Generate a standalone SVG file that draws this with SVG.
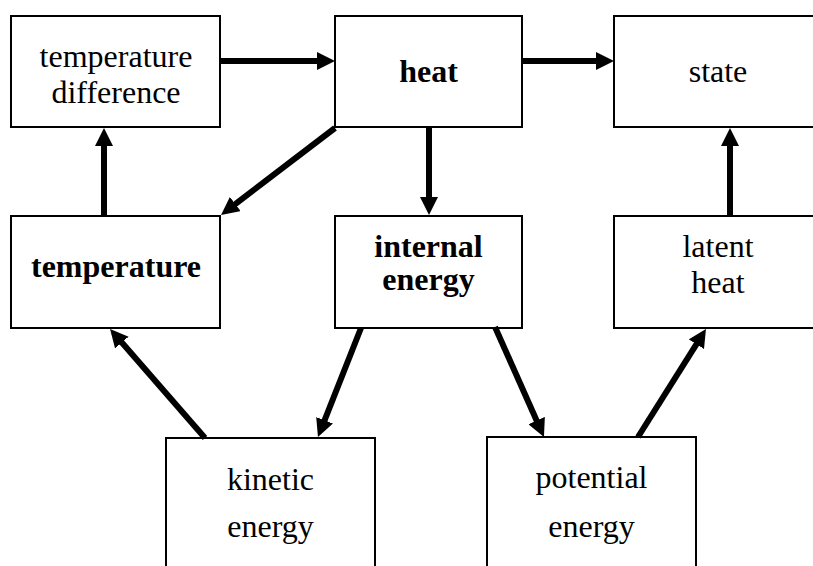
<svg xmlns="http://www.w3.org/2000/svg" width="813" height="566" viewBox="0 0 813 566">
<style>
.box{fill:#fff;stroke:#000;stroke-width:2}
.t{font-family:"Liberation Serif","Times New Roman",serif;font-size:32px;fill:#000;text-anchor:middle}
.b{font-weight:bold}
.c{fill:none;stroke:#000;stroke-width:6;marker-end:url(#ah)}
</style>
<defs>
<marker id="ah" markerUnits="userSpaceOnUse" markerWidth="18" markerHeight="18" viewBox="0 0 18 18" refX="10" refY="9" orient="auto">
<path d="M0,0 L18,9 L0,18 z" fill="#000"/>
</marker>
</defs>
<rect width="813" height="566" fill="#fff"/>
<g id="n-tempdiff"><rect class="box" x="11" y="16" width="209" height="111"/><text class="t" x="116" y="67">temperature</text><text class="t" x="116" y="103">difference</text></g>
<g id="n-heat"><rect class="box" x="335" y="16" width="187" height="111"/><text class="t b" x="428.5" y="82">heat</text></g>
<g id="n-state"><rect class="box" x="614" y="16" width="220" height="111"/><text class="t" x="718" y="82">state</text></g>
<g id="n-temperature"><rect class="box" x="11" y="216" width="209" height="112"/><text class="t b" x="116" y="277">temperature</text></g>
<g id="n-internal"><rect class="box" x="335" y="216" width="187" height="112"/><text class="t b" x="428.5" y="257">internal</text><text class="t b" x="428.5" y="290">energy</text></g>
<g id="n-latent"><rect class="box" x="614" y="216" width="220" height="112"/><text class="t" x="718" y="257">latent</text><text class="t" x="718" y="293">heat</text></g>
<g id="n-kinetic"><rect class="box" x="166" y="438" width="209" height="160"/><text class="t" x="270.5" y="490">kinetic</text><text class="t" x="270.5" y="537">energy</text></g>
<g id="n-potential"><rect class="box" x="487" y="437" width="209" height="160"/><text class="t" x="591.5" y="488">potential</text><text class="t" x="591.5" y="537">energy</text></g>
<g id="connectors">
<line class="c" x1="220" y1="61" x2="327" y2="61"/>
<line class="c" x1="522" y1="61" x2="606" y2="61"/>
<line class="c" x1="104" y1="216" x2="104" y2="136"/>
<line class="c" x1="335" y1="128" x2="227.4" y2="210.1"/>
<line class="c" x1="429" y1="128" x2="429" y2="207"/>
<line class="c" x1="730" y1="216" x2="730" y2="136"/>
<line class="c" x1="361" y1="328" x2="320.9" y2="429.6"/>
<line class="c" x1="205" y1="438" x2="115.3" y2="335"/>
<line class="c" x1="495" y1="327" x2="540.7" y2="429.7"/>
<line class="c" x1="638" y1="437" x2="701.7" y2="335.8"/>
</g>
</svg>
